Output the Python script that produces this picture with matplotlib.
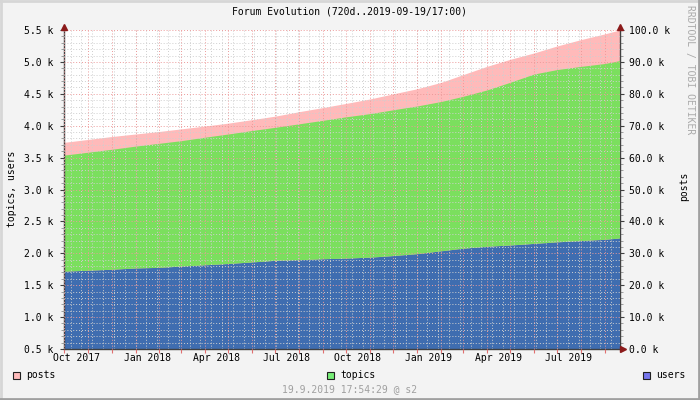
import matplotlib
matplotlib.use("Agg")
import matplotlib.pyplot as plt
import matplotlib.dates as mdates
from matplotlib.ticker import FixedLocator, FixedFormatter, MultipleLocator, FuncFormatter, NullFormatter
from matplotlib.patches import Rectangle
from matplotlib.lines import Line2D
import numpy as np
import pandas as pd

plt.rcParams['font.family'] = ['DejaVu Sans Mono']

# sample dates (month starts, plus both ends of the 720 day window)
dates = pd.to_datetime([
    "2017-09-29 17:00", "2017-10-01 00:00", "2017-11-01 00:00", "2017-12-01 00:00",
    "2018-01-01 00:00", "2018-02-01 00:00", "2018-03-01 00:00", "2018-04-01 00:00",
    "2018-05-01 00:00", "2018-06-01 00:00", "2018-07-01 00:00", "2018-08-01 00:00",
    "2018-09-01 00:00", "2018-10-01 00:00", "2018-11-01 00:00", "2018-12-01 00:00",
    "2019-01-01 00:00", "2019-02-01 00:00", "2019-03-01 00:00", "2019-04-01 00:00",
    "2019-05-01 00:00", "2019-06-01 00:00", "2019-07-01 00:00", "2019-08-01 00:00",
    "2019-09-01 00:00", "2019-09-19 17:00",
], format="%Y-%m-%d %H:%M")
users = [1720, 1720, 1735, 1750, 1770, 1780, 1800, 1820, 1840, 1865, 1890, 1900,
         1915, 1925, 1940, 1965, 1995, 2040, 2080, 2110, 2130, 2155, 2180, 2200,
         2220, 2240]
topics = [1810, 1820, 1850, 1880, 1910, 1945, 1965, 2000, 2030, 2060, 2085, 2130,
          2170, 2215, 2250, 2285, 2315, 2340, 2380, 2450, 2550, 2655, 2700, 2730,
          2755, 2780]
posts = [64700, 64800, 65700, 66600, 67400, 68200, 69000, 69900, 70800, 71900,
         73000, 74400, 75700, 77000, 78400, 80000, 81600, 83600, 86000, 88600,
         90800, 92800, 95000, 97000, 98800, 100000]

label_dates = pd.to_datetime(["2017-10-16", "2018-01-16", "2018-04-16", "2018-07-16",
                              "2018-10-16", "2019-01-16", "2019-04-16", "2019-07-16"])
label_text = ["Oct 2017", "Jan 2018", "Apr 2018", "Jul 2018",
              "Oct 2018", "Jan 2019", "Apr 2019", "Jul 2019"]
month_starts = pd.date_range("2017-10-01", "2019-09-01", freq="MS")
biweekly = pd.date_range("2017-10-09", "2019-09-19", freq="14D")

users = np.array(users)
top = users + np.array(topics)

c_posts = '#FFBABA'
c_topics = '#7BDF5E'
c_users = '#3F6DB0'
c_major = '#EC9A9A'
c_minor = '#CFCFCF'
c_axis = '#404040'
c_arrow = '#8B1A1A'

fig = plt.figure(figsize=(7, 4), dpi=100)
fig.patch.set_facecolor('#F3F3F3')

ax = fig.add_axes([63.5 / 700, 1 - 349 / 400, 556 / 700, 319 / 400])
axp = ax.twinx()
ax.set_zorder(2)
axp.set_zorder(1)
ax.patch.set_visible(False)
axp.patch.set_visible(True)
axp.patch.set_facecolor('white')

axp.fill_between(dates, 0, posts, color=c_posts, lw=0)
ax.fill_between(dates, 500, users, color=c_users, lw=0)
ax.fill_between(dates, users, top, color=c_topics, lw=0)

ax.set_xlim(dates[0], dates[-1])
ax.set_ylim(500, 5500)
axp.set_ylim(0, 100000)

kfmt = FuncFormatter(lambda v, _: f"{v / 1000:.1f} k")
ax.yaxis.set_major_locator(MultipleLocator(500))
ax.yaxis.set_minor_locator(MultipleLocator(100))
ax.yaxis.set_major_formatter(kfmt)
axp.yaxis.set_major_locator(MultipleLocator(10000))
axp.yaxis.set_minor_locator(MultipleLocator(2000))
axp.yaxis.set_major_formatter(kfmt)

ax.xaxis.set_major_locator(FixedLocator(mdates.date2num(month_starts)))
ax.xaxis.set_major_formatter(NullFormatter())
ax.xaxis.set_minor_locator(FixedLocator(mdates.date2num(label_dates)))
ax.xaxis.set_minor_formatter(FixedFormatter(label_text))

ax.set_axisbelow(False)
dots = (0, (1, 2))
ax.grid(which='minor', axis='y', color=c_minor, lw=0.7, ls=dots)
for d in biweekly:
    ax.axvline(d, color=c_minor, lw=0.7, ls=dots, zorder=2.4)
ax.grid(which='major', axis='both', color=c_major, lw=0.7, ls=dots)

ax.tick_params(axis='y', which='major', length=3, color=c_axis, labelsize=7, pad=4)
ax.tick_params(axis='y', which='minor', length=2, color='#909090')
axp.tick_params(axis='y', which='major', length=3, color=c_axis, labelsize=7, pad=4)
axp.tick_params(axis='y', which='minor', length=2, color='#909090')
ax.tick_params(axis='x', which='major', length=3, color='#E07070')
ax.tick_params(axis='x', which='minor', length=0, labelsize=7, pad=3)

for a in (ax, axp):
    for s in a.spines.values():
        s.set_visible(False)
ax.spines['left'].set_visible(True)
ax.spines['bottom'].set_visible(True)
axp.spines['right'].set_visible(True)
for s in (ax.spines['left'], ax.spines['bottom'], axp.spines['right']):
    s.set_color(c_axis)
    s.set_linewidth(1)

# axis arrows
ax.plot([0], [1.008], marker='^', ms=4, color=c_arrow, transform=ax.transAxes, clip_on=False, zorder=5)
ax.plot([1], [1.008], marker='^', ms=4, color=c_arrow, transform=ax.transAxes, clip_on=False, zorder=5)
ax.plot([1.006], [0], marker='>', ms=4, color=c_arrow, transform=ax.transAxes, clip_on=False, zorder=5)

fig.text(0.5, 1 - 11 / 400, "Forum Evolution (720d..2019-09-19/17:00)", ha='center', va='center', size=7)
fig.text(12 / 700, 1 - 189 / 400, "topics, users", rotation=90, ha='center', va='center', size=7)
fig.text(684 / 700, 1 - 186 / 400, "posts", rotation=90, ha='center', va='center', size=7)
fig.text(690 / 700, 1 - 5 / 400, "RRDTOOL / TOBI OETIKER", rotation=-90, ha='center', va='top',
         size=7, color='#AAAAAA')
fig.text(0.5, 1 - 389 / 400, "19.9.2019 17:54:29 @ s2", ha='center', va='center', size=7, color='#A0A0A0')

legend_items = [("posts", '#FFBBBB', 13), ("topics", '#77EE77', 327), ("users", '#7777EE', 643)]
for name, col, x0 in legend_items:
    fig.patches.append(Rectangle((x0 / 700, 1 - 378.5 / 400), 7 / 700, 7 / 400, transform=fig.transFigure,
                                 facecolor=col, edgecolor='#202020', lw=0.8))
    fig.text((x0 + 13) / 700, 1 - 375 / 400, name, ha='left', va='center', size=7)

# 3d border of the canvas
fig.lines.append(Line2D([0, 1], [0.997, 0.997], transform=fig.transFigure, color='#D6D6D6', lw=2))
fig.lines.append(Line2D([0.0015, 0.0015], [0, 1], transform=fig.transFigure, color='#D6D6D6', lw=2))
fig.lines.append(Line2D([0, 1], [0.003, 0.003], transform=fig.transFigure, color='#A0A0A0', lw=2))
fig.lines.append(Line2D([0.9985, 0.9985], [0, 1], transform=fig.transFigure, color='#A0A0A0', lw=2))

fig.savefig("out.png", dpi=100, facecolor=fig.get_facecolor())
